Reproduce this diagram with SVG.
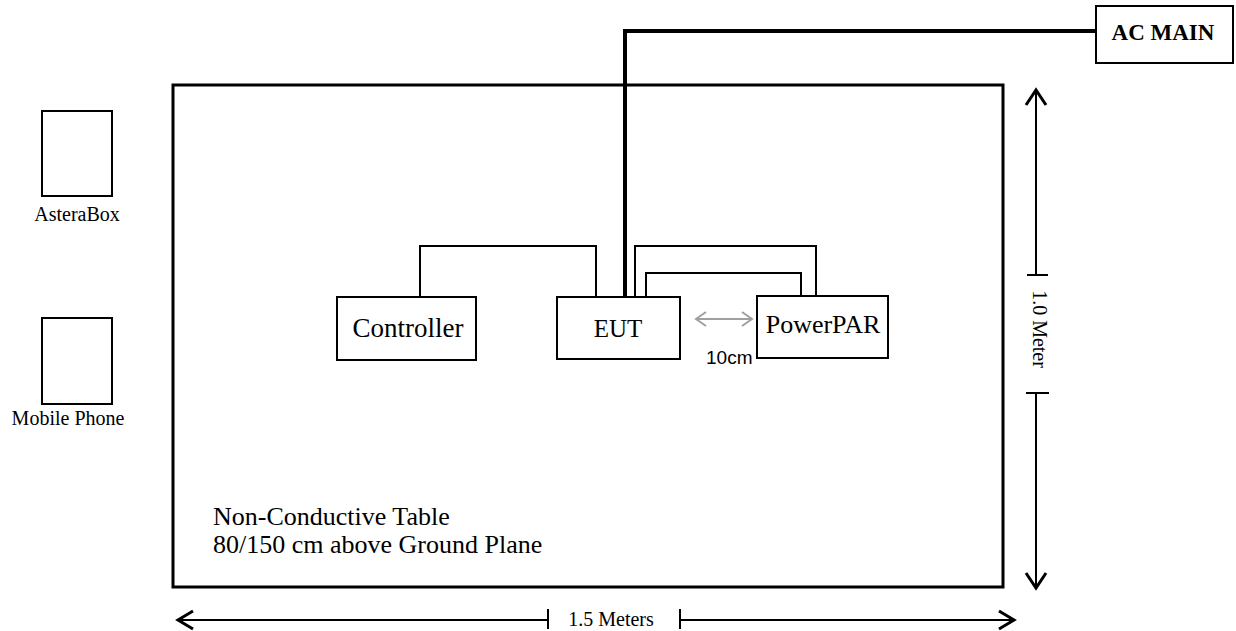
<svg xmlns="http://www.w3.org/2000/svg" width="1236" height="631" viewBox="0 0 1236 631">
<style>
.box{fill:#fff;stroke:#000;stroke-width:2}
.t{font-family:"Liberation Serif","Times New Roman",serif;fill:#000}
.cab{fill:none;stroke:#000;stroke-width:2}
.dim{fill:none;stroke:#000;stroke-width:2}
.head{fill:none;stroke:#000;stroke-width:3;stroke-linejoin:miter}
.gray{fill:none;stroke:#a0a0a0;stroke-width:2}
</style>
<rect width="1236" height="631" fill="#fff"/>
<g id="table">
<rect x="173" y="85" width="830" height="502" fill="none" stroke="#000" stroke-width="3"/>
<text class="t" x="213" y="525" font-size="26">Non-Conductive Table</text>
<text class="t" x="213" y="553" font-size="26">80/150 cm above Ground Plane</text>
</g>
<g id="connectors">
<polyline class="cab" points="420,297 420,246 596,246 596,297"/>
<polyline class="cab" points="635,297 635,246 816,246 816,296"/>
<polyline class="cab" points="646,297 646,273 801,273 801,296"/>
<polyline fill="none" stroke="#000" stroke-width="4" points="625,297 625,31 1096,31"/>
</g>
<g id="asterabox">
<rect class="box" x="42" y="111" width="70" height="85"/>
<text class="t" x="77" y="221" font-size="20" text-anchor="middle">AsteraBox</text>
</g>
<g id="mobile-phone">
<rect class="box" x="42" y="318" width="70" height="86"/>
<text class="t" x="68" y="425" font-size="20" text-anchor="middle">Mobile Phone</text>
</g>
<g id="controller">
<rect class="box" x="337" y="297" width="139" height="63"/>
<text class="t" x="408" y="337" font-size="27" text-anchor="middle">Controller</text>
</g>
<g id="eut">
<rect class="box" x="557" y="297" width="123" height="62"/>
<text class="t" x="618" y="337" font-size="25" text-anchor="middle">EUT</text>
</g>
<g id="powerpar">
<rect class="box" x="757" y="296" width="131" height="62"/>
<text class="t" x="823" y="333" font-size="26" text-anchor="middle">PowerPAR</text>
</g>
<g id="ac-main">
<rect class="box" x="1096" y="6" width="137" height="57"/>
<text class="t" x="1163" y="40" font-size="23" font-weight="bold" text-anchor="middle">AC MAIN</text>
</g>
<g id="spacing">
<line class="gray" x1="696" y1="319" x2="752" y2="319"/>
<polyline class="gray" points="706,312 696,319 706,326"/>
<polyline class="gray" points="742,312 752,319 742,326"/>
<text x="706" y="364" font-family="'Liberation Sans',Arial,sans-serif" font-size="19" fill="#000">10cm</text>
</g>
<g id="dim-vertical">
<line class="dim" x1="1036" y1="90" x2="1036" y2="275"/>
<line class="dim" x1="1027" y1="275" x2="1048" y2="275"/>
<line class="dim" x1="1026" y1="393" x2="1049" y2="393"/>
<line class="dim" x1="1036" y1="393" x2="1036" y2="588"/>
<polyline class="head" points="1026,105 1036,90 1046,105"/>
<polyline class="head" points="1026,573 1036,588 1046,573"/>
<text class="t" font-size="20" text-anchor="middle" transform="translate(1033,329) rotate(90)">1.0 Meter</text>
</g>
<g id="dim-horizontal">
<line class="dim" x1="178" y1="620" x2="548" y2="620"/>
<line class="dim" x1="548" y1="609" x2="548" y2="629"/>
<line class="dim" x1="680" y1="609" x2="680" y2="629"/>
<line class="dim" x1="680" y1="620" x2="1014" y2="620"/>
<polyline class="head" points="193,611 178,620 193,629"/>
<polyline class="head" points="999,611 1014,620 999,629"/>
<text class="t" x="611" y="626" font-size="20" text-anchor="middle">1.5 Meters</text>
</g>
</svg>
